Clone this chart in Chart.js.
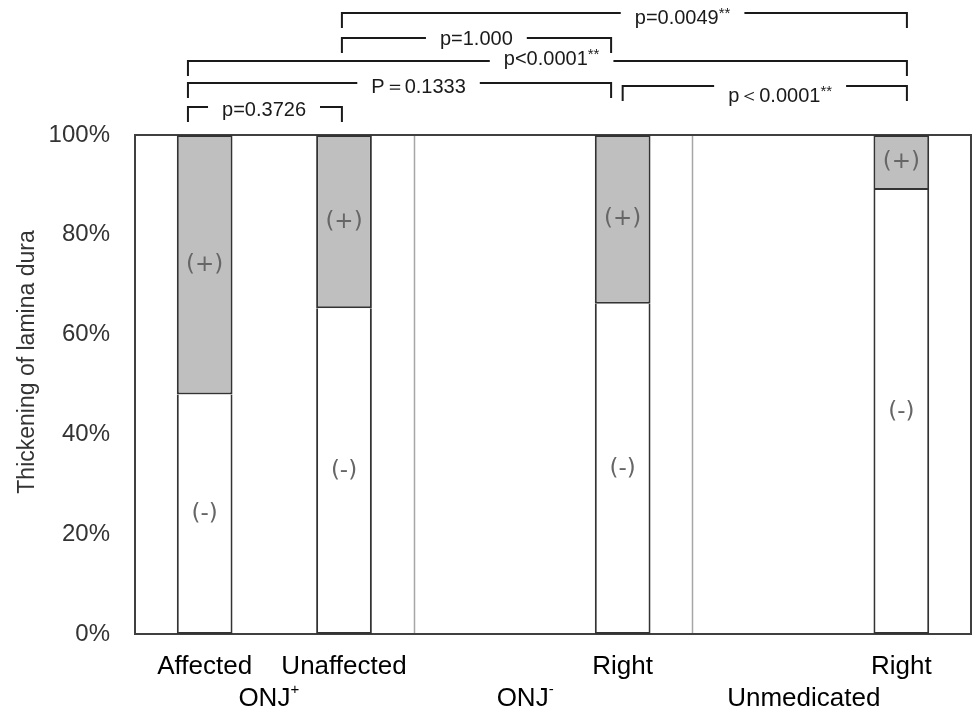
<!DOCTYPE html>
<html>
<head>
<meta charset="utf-8">
<script src="https://cdn.jsdelivr.net/npm/chart.js@4/dist/chart.umd.min.js"></script>
<style>
  html, body { margin: 0; padding: 0; background: #fff; }
  #wrap { width: 972px; height: 713px; position: relative; }
</style>
</head>
<body>
<div id="wrap"><canvas id="chart"></canvas></div>
<script>
// categories (6 slots, two of them empty like the original Excel chart)
const categories = ['Affected', 'Unaffected', '', 'Right', '', 'Right'];
const groups = [
    { name: 'ONJ', sup: '+', at: 0.46 },
    { name: 'ONJ', sup: '-', at: 2.30 },
    { name: 'Unmedicated', sup: '', at: 4.30 },
];
// share of teeth, %
const negative = [48, 65.3, null, 66.2, null, 89];   // (-)
const positive = [52, 34.7, null, 33.8, null, 11];   // (+)
const yTicks = [0, 20, 40, 60, 80, 100];
const yTitle = 'Thickening of lamina dura';

// significance brackets: from/to/textAt in category units
const brackets = [
    { from: 0.985, to: 5.04, textAt: 3.43, text: 'p=0.0049', star: '**' },
    { from: 0.985, to: 2.917, textAt: 1.95, text: 'p=1.000', star: '' },
    { from: -0.12, to: 5.04, textAt: 2.49, text: 'p<0.0001', star: '**' },
    { from: -0.12, to: 2.917, textAt: 1.535, text: 'P\uFF1D0.1333', star: '' },
    { from: 3.0, to: 5.04, textAt: 4.13, text: 'p\uFF1C0.0001', star: '**' },
    { from: -0.12, to: 0.985, textAt: 0.426, text: 'p=0.3726', star: '' },
];
// pixel rows for the brackets (line y, text middle y)
const bracketRows = [[13, 18], [38, 39], [61, 59], [83, 87], [86, 96], [107, 110]];

const FONT = '"Liberation Sans", Arial, sans-serif';

const decor = {
    id: 'decor',
    beforeDatasetsDraw(chart) {
        const { ctx, chartArea: a, scales: { x } } = chart;
        ctx.save();
        // group separators
        ctx.strokeStyle = '#a6a6a6';
        ctx.lineWidth = 1.5;
        [1.5, 3.5].forEach(v => {
            const px = Math.round(x.getPixelForValue(v)) + 0.5;
            ctx.beginPath(); ctx.moveTo(px, a.top); ctx.lineTo(px, a.bottom); ctx.stroke();
        });
        // frame
        ctx.strokeStyle = '#404040';
        ctx.lineWidth = 2;
        ctx.strokeRect(a.left, a.top, a.right - a.left, a.bottom - a.top);
        ctx.restore();
    },
    afterDatasetsDraw(chart) {
        const { ctx, scales: { x } } = chart;
        ctx.save();
        // (-) / (+) labels inside segments
        ctx.font = '23px "DejaVu Sans", sans-serif';
        ctx.fillStyle = '#666666';
        ctx.textAlign = 'center';
        ctx.textBaseline = 'middle';
        chart.data.datasets.forEach((ds, di) => {
            chart.getDatasetMeta(di).data.forEach((bar, i) => {
                if (ds.data[i] == null) return;
                ctx.fillText(ds.label, bar.x, (bar.y + bar.base) / 2);
            });
        });

        // brackets
        ctx.strokeStyle = '#1a1a1a';
        ctx.lineWidth = 2;
        ctx.fillStyle = '#1a1a1a';
        ctx.textBaseline = 'middle';
        brackets.forEach((b, k) => {
            const [ly, ty] = bracketRows[k];
            const x1 = x.getPixelForValue(b.from);
            const x2 = x.getPixelForValue(b.to);
            const xc = x.getPixelForValue(b.textAt);
            ctx.font = '20px ' + FONT;
            const w1 = ctx.measureText(b.text).width;
            ctx.font = '15px ' + FONT;
            const w2 = b.star ? ctx.measureText(b.star).width : 0;
            const w = w1 + w2;
            const t0 = xc - w / 2;
            ctx.beginPath();
            ctx.moveTo(x1, ly + 15); ctx.lineTo(x1, ly); ctx.lineTo(t0 - 14, ly);
            ctx.moveTo(t0 + w + 14, ly); ctx.lineTo(x2, ly); ctx.lineTo(x2, ly + 15);
            ctx.stroke();
            ctx.textAlign = 'left';
            ctx.font = '20px ' + FONT;
            ctx.fillText(b.text, t0, ty);
            if (b.star) {
                ctx.font = '15px ' + FONT;
                ctx.fillText(b.star, t0 + w1, ty - 4);
            }
        });

        // group labels under the category labels
        ctx.fillStyle = '#000';
        groups.forEach(g => {
            ctx.font = '26px ' + FONT;
            const w1 = ctx.measureText(g.name).width;
            ctx.font = '15px ' + FONT;
            const w2 = g.sup ? ctx.measureText(g.sup).width : 0;
            const cx = x.getPixelForValue(g.at);
            const s = cx - (w1 + w2) / 2;
            ctx.textAlign = 'left';
            ctx.font = '26px ' + FONT;
            ctx.fillText(g.name, s, 699);
            if (g.sup) {
                ctx.font = '15px ' + FONT;
                ctx.fillText(g.sup, s + w1, 690);
            }
        });

        // y-axis title
        ctx.translate(28, 362);
        ctx.rotate(-Math.PI / 2);
        ctx.textAlign = 'center';
        ctx.fillStyle = '#333';
        ctx.font = '23px ' + FONT;
        ctx.fillText(yTitle, 0, 0);
        ctx.restore();
    },
};

new Chart(document.getElementById('chart'), {
    type: 'bar',
    data: {
        labels: categories,
        datasets: [
            { label: '(-)', data: negative, backgroundColor: '#ffffff',
              borderWidth: { top: 0, left: 2, right: 2, bottom: 2 } },
            { label: '(+)', data: positive, backgroundColor: '#bfbfbf', borderWidth: 2 },
        ],
    },
    options: {
        responsive: true,
        maintainAspectRatio: false,
        animation: false,
        events: [],
        layout: { padding: { top: 135, right: 1, left: 0, bottom: 0 } },
        datasets: {
            bar: {
                borderColor: '#333333', borderSkipped: false,
                barPercentage: 0.4, categoryPercentage: 1,
            },
        },
        plugins: { legend: { display: false }, tooltip: { enabled: false } },
        scales: {
            x: {
                stacked: true,
                grid: { display: false, drawTicks: false },
                border: { display: false },
                ticks: { color: '#000', font: { family: FONT, size: 26 }, padding: 17, maxRotation: 0, autoSkip: false },
                afterFit: s => { s.height = 79; },
            },
            y: {
                stacked: true,
                min: 0, max: 100,
                afterBuildTicks: s => { s.ticks = yTicks.map(v => ({ value: v })); },
                grid: { display: false, drawTicks: false },
                border: { display: false },
                ticks: { color: '#333', font: { family: FONT, size: 24 }, padding: 25, callback: v => v + '%' },
                afterFit: s => { s.width = 135; },
            },
        },
    },
    plugins: [decor],
});
</script>
</body>
</html>
